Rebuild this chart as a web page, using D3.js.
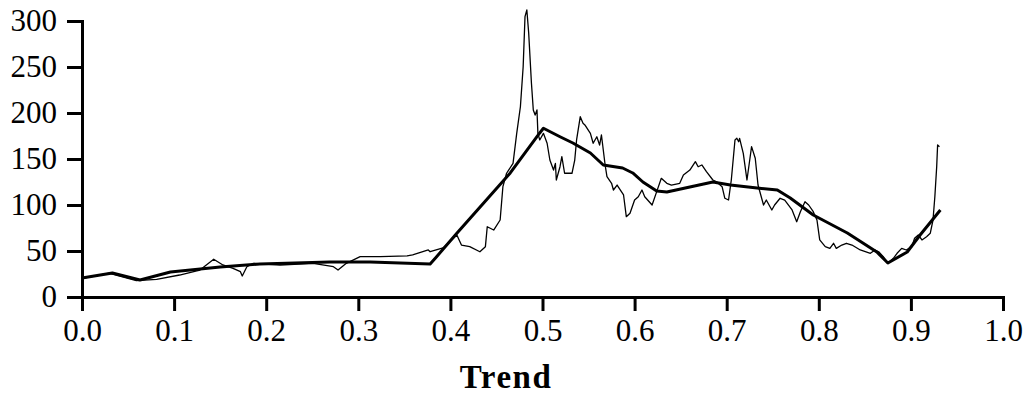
<!DOCTYPE html>
<html>
<head>
<meta charset="utf-8">
<script src="https://cdn.jsdelivr.net/npm/d3@7"></script>
<style>
  html, body { margin: 0; padding: 0; background: #fff; }
  svg { display: block; }
  .axis text { font-family: "Liberation Serif", "DejaVu Serif", serif; font-size: 31px; fill: #000; }
  .axis path, .axis line { stroke: #000; stroke-width: 3px; }
</style>
</head>
<body>
<svg id="chart" width="1032" height="396"></svg>
<script>
// Raw series: x position (trend fraction) and observed value
const rawX = [0.000,0.030,0.059,0.081,0.106,0.128,0.135,0.143,0.153,0.164,0.172,0.174,0.179,0.186,0.215,0.251,0.273,0.278,0.287,0.302,0.324,0.353,0.359,0.376,0.378,0.392,0.407,0.412,0.421,0.432,0.438,0.440,0.447,0.454,0.457,0.461,0.468,0.472,0.476,0.479,0.481,0.483,0.485,0.488,0.490,0.492,0.494,0.495,0.497,0.501,0.505,0.508,0.512,0.514,0.515,0.519,0.521,0.524,0.532,0.535,0.537,0.541,0.544,0.546,0.552,0.555,0.559,0.562,0.564,0.568,0.570,0.575,0.577,0.581,0.588,0.591,0.595,0.600,0.604,0.608,0.611,0.619,0.624,0.629,0.635,0.640,0.649,0.653,0.660,0.666,0.669,0.673,0.678,0.685,0.689,0.695,0.698,0.702,0.705,0.709,0.711,0.713,0.714,0.718,0.722,0.725,0.727,0.731,0.734,0.740,0.743,0.749,0.752,0.758,0.763,0.771,0.776,0.780,0.785,0.789,0.794,0.798,0.801,0.807,0.812,0.816,0.819,0.825,0.830,0.836,0.845,0.856,0.861,0.865,0.870,0.875,0.881,0.885,0.890,0.895,0.901,0.904,0.908,0.912,0.917,0.921,0.924,0.926,0.928,0.929,0.931];
const rawY = [20.3,25.8,17.7,19.2,23.9,29.3,34.8,41.0,34.8,31.2,27.5,22.8,32.9,36.6,34.8,36.6,32.9,29.3,36.6,43.8,43.8,44.6,45.7,51.1,49.2,53.3,67.4,56.5,54.7,49.2,54.7,76.4,72.8,83.7,119.9,134.5,145.3,177.9,206.8,250.3,304.7,312.0,287.0,232.3,203.3,197.8,203.3,177.9,170.7,177.9,167.1,148.9,138.0,145.3,127.2,141.6,152.5,134.5,134.5,148.9,170.7,196.0,188.8,187.0,177.9,167.1,174.2,165.2,176.1,143.5,130.8,123.6,116.3,121.7,110.9,87.3,91.0,105.4,109.0,116.3,109.0,100.0,114.5,129.0,123.6,121.7,123.6,132.6,138.0,147.1,141.6,143.5,136.2,127.2,125.3,119.9,107.3,105.4,127.2,170.7,172.5,168.8,172.5,156.2,127.2,148.9,163.4,150.8,121.7,100.0,105.4,94.6,100.0,107.3,105.4,94.6,81.8,92.7,103.6,100.0,92.7,83.7,62.0,54.7,52.9,58.4,52.9,56.5,58.4,56.5,51.1,47.5,51.1,49.2,43.8,36.6,42.1,47.5,52.9,51.1,54.7,63.8,67.4,62.0,65.5,69.2,83.7,109.0,141.6,165.2,163.4];

// Smoothed trend
const trendX = [0.000,0.033,0.063,0.096,0.150,0.193,0.269,0.313,0.378,0.385,0.407,0.439,0.465,0.497,0.501,0.519,0.533,0.552,0.566,0.587,0.598,0.609,0.624,0.635,0.660,0.685,0.704,0.733,0.755,0.769,0.794,0.831,0.863,0.875,0.896,0.910,0.932];
const trendY = [20.7,26.1,18.5,27.2,32.6,35.9,38.0,38.0,35.9,43.8,69.2,105.4,134.8,178.3,183.4,174.2,167.4,156.5,143.5,140.2,134.8,125.0,115.2,114.1,119.6,125.0,121.7,118.5,116.3,107.6,89.1,69.6,48.9,37.0,48.9,67.4,94.6];

const xTicks = [0,0.1,0.2,0.3,0.4,0.5,0.6,0.7,0.8,0.9,1.0];
const yTicks = [0,50,100,150,200,250,300];
const xTitle = "Trend";

const svg = d3.select("#chart");
const plotLeft = 82, plotRight = 1003, plotTop = 21, plotBottom = 297;

const x = d3.scaleLinear().domain([0, 1]).range([plotLeft, plotRight]);
const y = d3.scaleLinear().domain([0, 300]).range([plotBottom, plotTop]);

const line = d3.line().x(d => x(d[0])).y(d => y(d[1]));

svg.append("path")
  .datum(d3.zip(rawX, rawY))
  .attr("fill", "none")
  .attr("stroke", "#000")
  .attr("stroke-width", 1.3)
  .attr("stroke-linejoin", "round")
  .attr("d", line);

svg.append("path")
  .datum(d3.zip(trendX, trendY))
  .attr("fill", "none")
  .attr("stroke", "#000")
  .attr("stroke-width", 3)
  .attr("stroke-linejoin", "round")
  .attr("d", line);

svg.append("g")
  .attr("class", "axis")
  .attr("transform", `translate(0,${plotBottom})`)
  .call(d3.axisBottom(x).tickValues(xTicks).tickFormat(d3.format(".1f")).tickSize(14).tickSizeOuter(0).tickPadding(8));

svg.append("g")
  .attr("class", "axis")
  .attr("transform", `translate(${plotLeft},0)`)
  .call(d3.axisLeft(y).tickValues(yTicks).tickFormat(d3.format("d")).tickSize(15).tickSizeOuter(0).tickPadding(10));

svg.selectAll(".axis path.domain").attr("stroke-linecap", "square");

svg.append("text")
  .attr("x", 506)
  .attr("y", 388)
  .attr("text-anchor", "middle")
  .attr("font-family", "\"Liberation Serif\", \"DejaVu Serif\", serif")
  .attr("font-size", 33)
  .attr("font-weight", "bold")
  .attr("letter-spacing", 1.5)
  .text(xTitle);
</script>
</body>
</html>
